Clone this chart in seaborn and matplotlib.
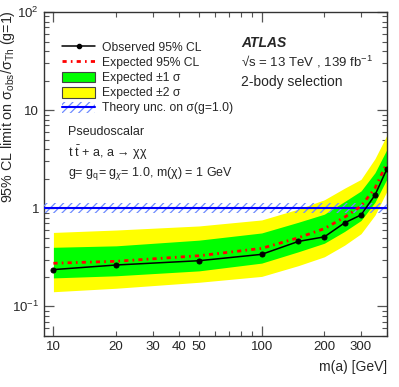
import numpy as np
import pandas as pd
import matplotlib
matplotlib.use("Agg")
import matplotlib.pyplot as plt
import seaborn as sns
from matplotlib.patches import Patch
from matplotlib.lines import Line2D
from matplotlib.ticker import FixedLocator, FixedFormatter, NullFormatter

# masses (GeV)
mass = [10, 20, 50, 100, 150, 200, 250, 300, 350, 400]
observed = [0.237, 0.264, 0.292, 0.339, 0.459, 0.511, 0.709, 0.855, 1.36, 2.53]
expected = [0.275, 0.288, 0.328, 0.39, 0.50, 0.62, 0.81, 1.05, 1.60, 2.90]
band1_lo = [0.195, 0.205, 0.23, 0.276, 0.36, 0.44, 0.58, 0.75, 1.15, 2.0]
band1_hi = [0.40, 0.414, 0.473, 0.56, 0.72, 0.87, 1.17, 1.50, 2.3, 4.0]
band2_lo = [0.141, 0.153, 0.176, 0.202, 0.26, 0.32, 0.42, 0.55, 0.85, 1.5]
band2_hi = [0.567, 0.60, 0.66, 0.76, 0.98, 1.22, 1.6, 1.97, 3.2, 5.6]
theory_lo, theory_hi = 0.89, 1.12

df = pd.DataFrame({"mass": mass, "observed": observed, "expected": expected})

sns.set_style("ticks")
plt.rcParams["font.family"] = ["Liberation Sans", "DejaVu Sans"]
plt.rcParams["mathtext.fontset"] = "custom"
plt.rcParams["mathtext.rm"] = "Liberation Sans"
plt.rcParams["mathtext.it"] = "Liberation Sans:italic"
plt.rcParams["hatch.linewidth"] = 0.9

fig = plt.figure(figsize=(3.99, 3.87), dpi=100)
ax = fig.add_axes([0.110, 0.132, 0.860, 0.837])

yellow = "#ffff00"
green = "#00ff00"
blue = "#0000ff"
hatch_col = "#6f8cff"

ax.fill_between(mass, band2_lo, band2_hi, color=yellow, lw=0, zorder=1)
ax.fill_between(mass, band1_lo, band1_hi, color=green, lw=0, zorder=2)

# theory band on g=1
ax.fill_between([8, 450], [theory_lo] * 2, [theory_hi] * 2, facecolor="none",
                edgecolor=hatch_col, hatch="////", lw=0, zorder=3)
ax.axhline(1.0, color=blue, lw=1.5, zorder=4)

exp_style = (0, (1.5, 1.5, 0.6, 1.5))
sns.lineplot(data=df, x="mass", y="expected", ax=ax, color="red",
             linestyle=exp_style, lw=2.0, zorder=5)
sns.lineplot(data=df, x="mass", y="observed", ax=ax, color="black",
             lw=1.1, marker="o", markersize=3.6, markeredgecolor="black", zorder=6)

ax.set_xscale("log")
ax.set_yscale("log")
ax.set_xlim(9, 400)
ax.set_ylim(0.05, 100)

# ticks, ROOT style
ax.xaxis.set_major_locator(FixedLocator([10, 100]))
ax.xaxis.set_major_formatter(FixedFormatter(["10", "100"]))
xminor = [20, 30, 40, 50, 60, 70, 80, 90, 200, 300, 400]
ax.xaxis.set_minor_locator(FixedLocator(xminor))
ax.xaxis.set_minor_formatter(FixedFormatter(
    ["20", "30", "40", "50", "", "", "", "", "200", "300", ""]))
ax.yaxis.set_major_locator(FixedLocator([0.1, 1, 10, 100]))
ax.yaxis.set_major_formatter(FixedFormatter(["$10^{-1}$", "1", "10", "$10^{2}$"]))
yminor = [v * d for d in [0.01, 0.1, 1, 10] for v in range(2, 10)]
ax.yaxis.set_minor_locator(FixedLocator(yminor))
ax.yaxis.set_minor_formatter(NullFormatter())
ax.tick_params(which="both", direction="in", top=True, right=True, labelsize=9.5,
               color="#555555")
ax.tick_params(which="major", length=7, width=0.9)
ax.tick_params(which="minor", length=3.5, width=0.8)
ax.tick_params(axis="x", which="minor", labelsize=9.5, pad=3.5)
ax.tick_params(axis="x", which="major", pad=3.5)
for s in ax.spines.values():
    s.set_color("#333333")
    s.set_linewidth(1.0)

ax.set_xlabel("m(a) [GeV]", loc="right", fontsize=10, labelpad=5)
ax.set_ylabel("95% CL limit on σ$_{\\rm obs}$/σ$_{\\rm Th}$ (g=1)", loc="top", fontsize=10.3)
ax.yaxis.set_label_coords(-0.078, 1.005)

handles = [
    Line2D([], [], color="black", lw=1.1, marker="o", markersize=3),
    Line2D([], [], color="red", lw=2.0, linestyle=exp_style),
    Patch(facecolor=green, edgecolor="#444444", lw=0.8),
    Patch(facecolor=yellow, edgecolor="#444444", lw=0.8),
    (Patch(facecolor="none", edgecolor=hatch_col, hatch="////", lw=0),
     Line2D([], [], color=blue, lw=1.5)),
]
labels = ["Observed 95% CL", "Expected 95% CL", "Expected ±1 σ",
          "Expected ±2 σ", "Theory unc. on σ(g=1.0)"]
ax.legend(handles, labels, loc="upper left", bbox_to_anchor=(0.04, 0.925),
          frameon=False, fontsize=8.7, handlelength=2.7, handleheight=1.0,
          labelspacing=0.22, handletextpad=0.6, borderaxespad=0)

ax.text(0.575, 0.905, "ATLAS", transform=ax.transAxes, fontsize=10,
        fontweight="bold", fontstyle="italic", va="center")
ax.text(0.575, 0.845, "√s = 13 TeV , 139 fb$^{-1}$", transform=ax.transAxes,
        fontsize=9.5, va="center")
ax.text(0.575, 0.784, "2-body selection", transform=ax.transAxes, fontsize=10,
        va="center")
ax.text(0.07, 0.63, "Pseudoscalar", transform=ax.transAxes, fontsize=9, va="center")
ax.text(0.07, 0.565, "t $\\bar{\\rm t}$ + a, a → χχ", transform=ax.transAxes,
        fontsize=9, va="center")
ax.text(0.07, 0.50, "g= g$_{\\rm q}$= g$_{\\chi}$= 1.0, m(χ) = 1 GeV",
        transform=ax.transAxes, fontsize=9, va="center")

fig.savefig("out.png", dpi=100)
